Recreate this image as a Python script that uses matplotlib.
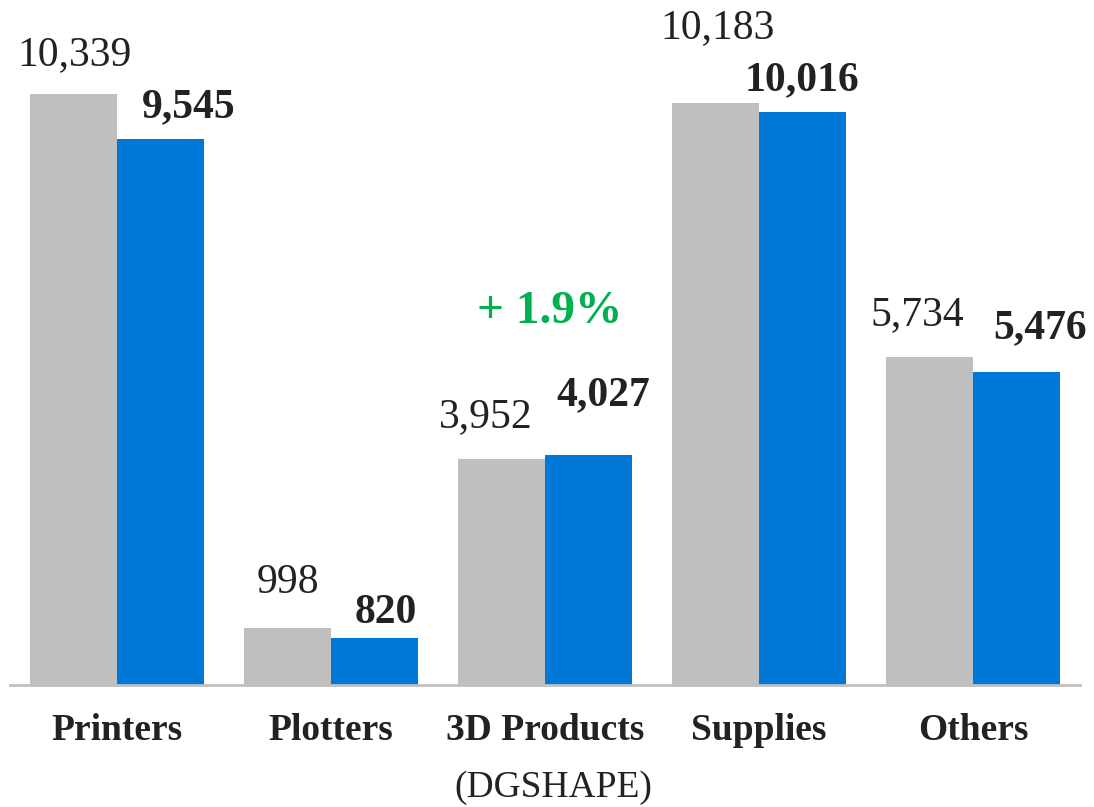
import numpy as np
import matplotlib.pyplot as plt

plt.rcParams['font.family'] = ['Liberation Serif', 'DejaVu Serif']

categories = ["Printers", "Plotters", "3D Products", "Supplies", "Others"]
prev_year = [10339, 998, 3952, 10183, 5734]
this_year = [9545, 820, 4027, 10016, 5476]
growth_note = "+ 1.9%"
sub_note = "(DGSHAPE)"

# label nudges in pixels (dx, dy above bar top)
prev_offsets = [(1, 29), (0, 35), (-16, 32), (2, 65), (-12, 32)]
this_offsets = [(28, 22), (11, 15), (15, 50), (0, 22), (24, 34)]

gray = '#BFBFBF'
blue = '#0078D7'
txt = '#222222'

fig = plt.figure(figsize=(10.94, 8.07), dpi=100)
ax = fig.add_axes([10 / 1094, 122 / 807, 1070 / 1094, 685 / 807])

x = np.arange(len(categories))
w = 87 / 214
ax.bar(x - w / 2, prev_year, w, color=gray)
ax.bar(x + w / 2, this_year, w, color=blue)

for i in range(len(categories)):
    ax.annotate(f"{prev_year[i]:,}", (x[i] - w / 2, prev_year[i]),
                xytext=prev_offsets[i], textcoords='offset pixels',
                ha='center', va='baseline', fontsize=30, color=txt)
    ax.annotate(f"{this_year[i]:,}", (x[i] + w / 2, this_year[i]),
                xytext=this_offsets[i], textcoords='offset pixels',
                ha='center', va='baseline', fontsize=30, color=txt,
                fontweight='bold')

ax.annotate(growth_note, (x[2], this_year[2]), xytext=(5, 132),
            textcoords='offset pixels', ha='center', va='baseline',
            fontsize=34, color='#00B050', fontweight='bold')

ax.set_xlim(-0.5, 4.5)
ax.set_ylim(0, 685 / 0.05716)
ax.set_xticks(x)
ax.set_xticklabels(categories, fontsize=27, fontweight='bold', color=txt)
ax.tick_params(axis='x', length=0, pad=20)
ax.set_yticks([])
for side in ['top', 'right', 'left']:
    ax.spines[side].set_visible(False)
ax.spines['bottom'].set_color(gray)
ax.spines['bottom'].set_linewidth(2)

ax.annotate(sub_note, (x[2], 0), xytext=(8, -112), textcoords='offset pixels',
            ha='center', va='baseline', fontsize=27, color=txt)

fig.savefig("out.png", dpi=100)
